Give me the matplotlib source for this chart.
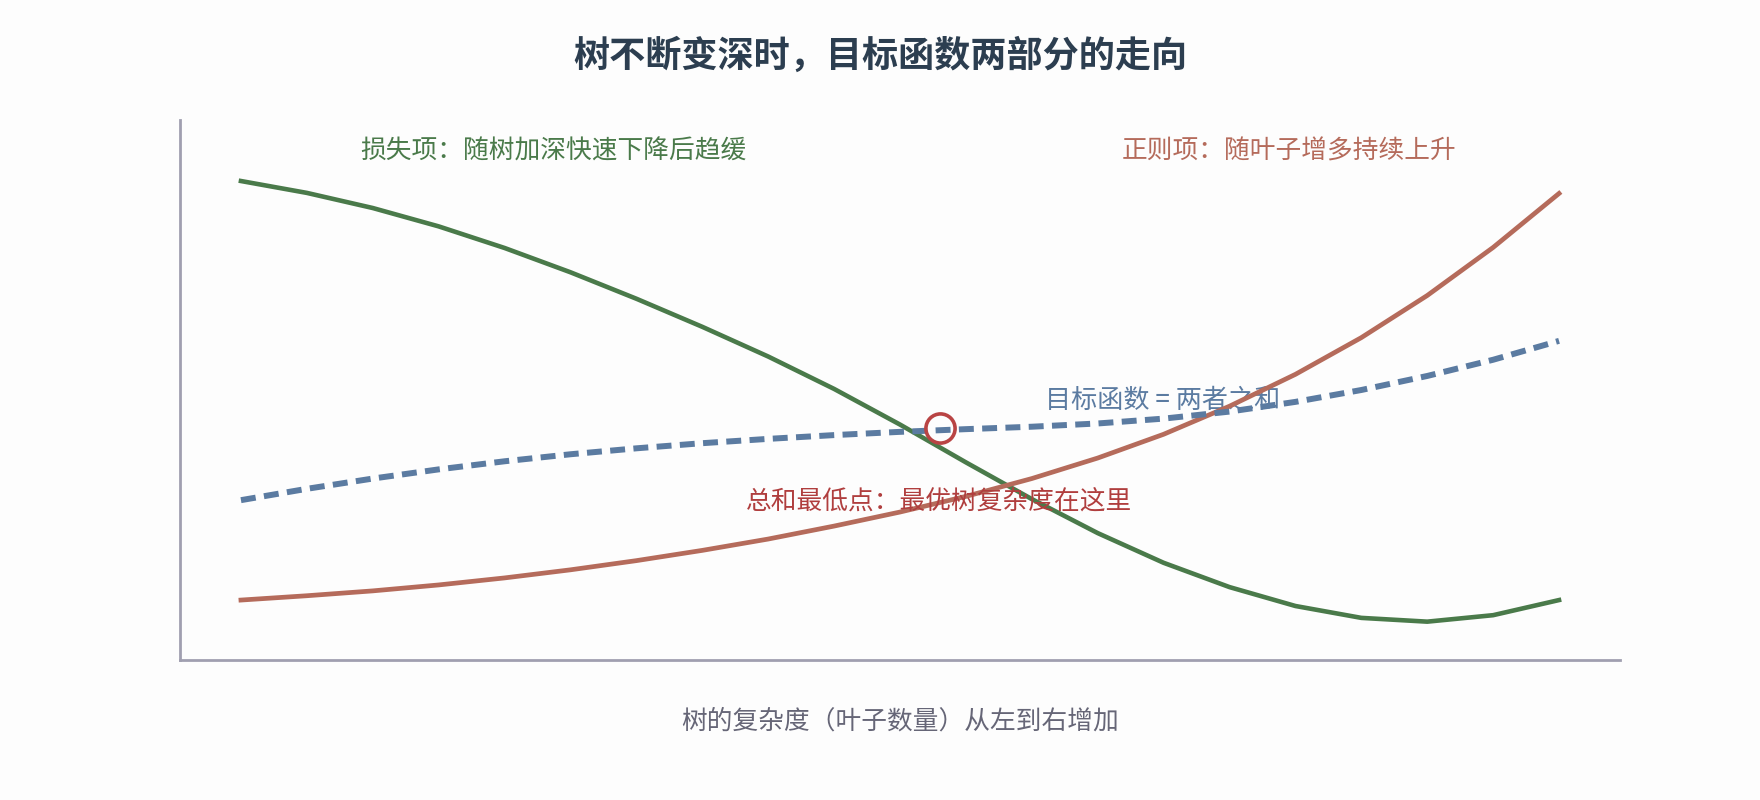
import numpy as np
import matplotlib.pyplot as plt

plt.rcParams['font.family'] = ['Noto Sans CJK SC', 'DejaVu Sans']

# x positions: tree complexity, left to right
x = np.arange(0, 10.5, 0.5)
# loss term (drops fast then flattens, slight rise at the end)
loss = [88.7, 86.5, 83.7, 80.3, 76.3, 71.8, 66.9, 61.7, 56.2, 50.2, 43.6,
        36.6, 29.8, 23.5, 18.0, 13.5, 10.0, 7.8, 7.1, 8.3, 11.1]
# regularisation term (keeps rising)
reg = [11.1, 11.9, 12.8, 13.9, 15.2, 16.7, 18.4, 20.3, 22.4, 24.8, 27.4,
       30.3, 33.6, 37.4, 41.8, 47.0, 52.9, 59.7, 67.5, 76.4, 86.4]
# objective (illustrative sum)
objective = [29.6, 31.7, 33.6, 35.3, 36.8, 38.1, 39.2, 40.15, 40.95, 41.65,
             42.25, 42.75, 43.2, 43.8, 44.7, 46.0, 47.8, 50.0, 52.6, 55.6, 59.1]
best_x, best_y = 5.3, 43.0

title = '树不断变深时，目标函数两部分的走向'
loss_label = '损失项：随树加深快速下降后趋缓'
reg_label = '正则项：随叶子增多持续上升'
obj_label = '目标函数 = 两者之和'
best_label = '总和最低点：最优树复杂度在这里'
x_label = '树的复杂度（叶子数量）从左到右增加'

green = '#4a7a4a'
red = '#b56b5b'
blue = '#5b7ba1'
dark_red = '#b03e3e'
axis_c = '#a09fb0'

fig = plt.figure(figsize=(17.6, 8), dpi=100, facecolor='#fdfdfd')
ax = fig.add_axes([180 / 1760, 140 / 800, 1440 / 1760, 540 / 800])
ax.set_facecolor('#fdfdfd')

ax.plot(x, loss, color=green, lw=3.3, solid_joinstyle='round', zorder=3)
ax.plot(x, reg, color=red, lw=3.4, solid_joinstyle='round', zorder=3)
ax.plot(x, objective, color=blue, lw=4.3, dashes=(2.5, 1.4),
        dash_capstyle='butt', zorder=4)
ax.plot([best_x], [best_y], 'o', ms=21, mfc='none', mec='#b94444',
        mew=2.6, zorder=5)

ax.text(2.37, 94.1, loss_label, color=green, fontsize=18.5,
        ha='center', va='center')
ax.text(7.95, 94.1, reg_label, color=red, fontsize=18.5,
        ha='center', va='center')
ax.text(6.99, 48.0, obj_label, color=blue, fontsize=18.8,
        ha='center', va='center', zorder=1)
ax.text(5.30, 29.3, best_label, color=dark_red, fontsize=18.5,
        ha='center', va='center', zorder=6)

ax.set_xlim(-0.4625, 10.4625)
ax.set_ylim(0, 100)
for s in ['top', 'right']:
    ax.spines[s].set_visible(False)
for s in ['left', 'bottom']:
    ax.spines[s].set_color(axis_c)
    ax.spines[s].set_linewidth(2)
ax.set_xticks([])
ax.set_yticks([])

fig.text(0.5, 1 - 56 / 800, title, color='#2c3e50', fontsize=26,
         fontweight='bold', ha='center', va='center')
fig.text(900 / 1760, 1 - 722 / 800, x_label, color='#666677', fontsize=18.5,
         ha='center', va='center')

fig.savefig('out.png', dpi=100, facecolor=fig.get_facecolor())
